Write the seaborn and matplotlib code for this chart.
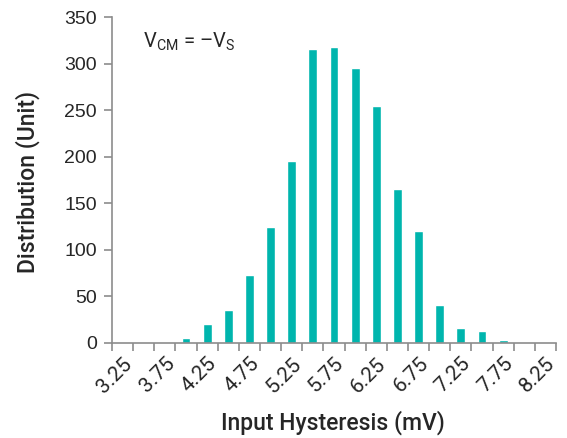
import numpy as np
import pandas as pd
import matplotlib
matplotlib.use("Agg")
import matplotlib.pyplot as plt
import seaborn as sns

# bins (mV) and counts
bins = ['3.25', '3.5', '3.75', '4', '4.25', '4.5', '4.75', '5', '5.25', '5.5', '5.75',
        '6', '6.25', '6.5', '6.75', '7', '7.25', '7.5', '7.75', '8', '8.25']
counts = [0, 0, 1, 5, 20, 35, 73, 125, 195, 316, 318,
          295, 255, 165, 120, 41, 16, 13, 3, 1, 0]
tick_labels = ['3.25', '3.75', '4.25', '4.75', '5.25', '5.75',
               '6.25', '6.75', '7.25', '7.75', '8.25']

df = pd.DataFrame({'Bin': bins, 'Count': counts})

sns.set_style('white')
plt.rcParams['font.family'] = ['Liberation Sans', 'DejaVu Sans']
plt.rcParams['mathtext.fontset'] = 'custom'
plt.rcParams['mathtext.rm'] = 'Roboto'

fig = plt.figure(figsize=(5.67, 4.38), dpi=100)
ax = fig.add_axes([0.1975, 0.217, 0.783, 0.744])

sns.barplot(data=df, x='Bin', y='Count', color='#00B5AD', width=0.42,
            saturation=1, ax=ax)

n = len(bins)
ax.set_xlim(-0.5, n - 0.5)
ax.set_ylim(0, 350)
ax.set_yticks(np.arange(0, 351, 50))
ax.set_xticks(np.arange(0, n, 2))
ax.set_xticklabels(tick_labels, rotation=45, ha='right', rotation_mode='anchor',
                   family='Roboto', fontsize=15)
ax.set_xticks(np.arange(-0.5, n, 1), minor=True)

for side in ['top', 'right']:
    ax.spines[side].set_visible(False)
for side in ['left', 'bottom']:
    ax.spines[side].set_color('#8c8c8c')
    ax.spines[side].set_linewidth(1.2)

ax.tick_params(axis='y', which='major', direction='out', length=6, width=1.2,
               color='#8c8c8c', labelsize=14, left=True, pad=5)
ax.tick_params(axis='x', which='major', length=0, pad=8)
ax.tick_params(axis='x', which='minor', direction='out', length=6, width=1.2,
               color='#8c8c8c', bottom=True)

ax.set_xlabel('Input Hysteresis (mV)', fontsize=16.5, family='Roboto',
              fontweight='medium', va='center')
ax.set_ylabel('Distribution (Unit)', fontsize=16.5, family='Roboto',
              fontweight='medium', va='center')
ax.xaxis.set_label_coords(0.498, -0.245)
ax.yaxis.set_label_coords(-0.189, 0.494)

ax.text(0.07, 0.925, r'V$_{\mathrm{CM}}$ = –V$_{\mathrm{S}}$', transform=ax.transAxes,
        fontsize=14.5, family='Roboto', ha='left', va='center')

fig.savefig('out.png', dpi=100)
